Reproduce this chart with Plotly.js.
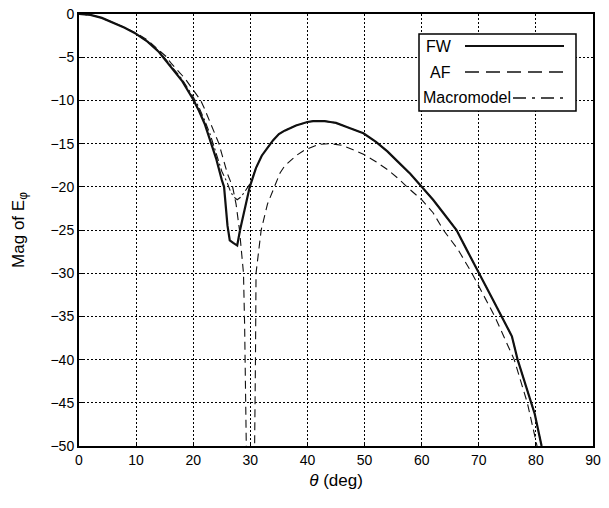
<!DOCTYPE html>
<html>
<head>
<meta charset="utf-8">
<script src="https://cdn.plot.ly/plotly-3.0.1.min.js"></script>
<style>
  html, body { margin: 0; padding: 0; background: #fff; }
  #chart { width: 609px; height: 508px; }
</style>
</head>
<body>
<div id="chart"></div>
<script>
// ---- Data ----
var fwTheta = [0, 2, 4, 6, 8, 10, 12, 14, 16, 18, 20, 21, 22, 23, 24, 25, 25.4, 26, 26.4, 27, 27.7, 28.2, 29, 29.9, 31, 32, 33, 34, 35, 36, 38, 40, 41, 43, 44, 45, 47, 49.8, 52, 54, 56, 58, 60, 62, 64, 66.1, 67.9, 70.1, 72.5, 74, 75.8, 76.8, 79.1, 79.8, 81];
var fwMag   = [0, -0.1, -0.45, -1.0, -1.6, -2.3, -3.2, -4.4, -6.0, -7.7, -9.9, -11.2, -12.7, -14.6, -16.7, -19.2, -20.0, -24.5, -26.2, -26.5, -26.8, -25.0, -22.5, -20.0, -17.8, -16.4, -15.5, -14.6, -13.9, -13.5, -12.9, -12.5, -12.4, -12.4, -12.5, -12.6, -13.1, -13.8, -14.8, -15.9, -17.2, -18.5, -20.0, -21.5, -23.2, -25.0, -27.3, -30.0, -33.1, -35.0, -37.3, -40.0, -45.0, -46.3, -50.0];

var afTheta = [0, 2, 4, 6, 8, 10, 12, 14, 15.4, 16, 18, 18.6, 20, 21.3, 22, 23, 24, 24.5, 25, 26, 26.9, 27.5, 28.1, 28.8, 29.0, 29.2, 29.5, 30.6, 30.8, 30.9, 31.0, 31.5, 31.9, 33, 34.2, 35.2, 36, 38, 39.6, 42, 44, 46, 48, 50, 52, 54, 56, 57.4, 60, 62, 63.8, 66.4, 68.8, 70.5, 72.8, 74.5, 76.2, 78.5, 80.2];
var afMag   = [0, -0.1, -0.45, -1.0, -1.55, -2.2, -3.0, -4.2, -5.0, -5.6, -7.1, -7.5, -8.8, -10.0, -11.0, -12.6, -14.4, -15.0, -16.2, -18.5, -20.0, -22.0, -25.0, -30.0, -36.0, -50.0, -60.0, -60.0, -50.0, -40.0, -30.0, -27.0, -25.0, -22.0, -20.0, -18.4, -17.6, -16.4, -15.7, -15.1, -15.0, -15.2, -15.7, -16.3, -17.1, -18.0, -19.1, -20.0, -21.5, -23.0, -25.0, -27.3, -30.0, -32.2, -35.0, -37.5, -40.0, -45.0, -50.0];

var mmTheta = [0, 2, 4, 6, 8, 10, 12, 14, 16, 18, 20, 21, 22, 23, 24, 25, 26, 26.5, 27, 27.7, 28.3, 29, 30, 31, 32, 33, 34, 35, 36, 38, 40, 41, 43, 44, 45, 47, 49.8, 52, 54, 56, 58, 60, 62, 64, 66.1, 67.9, 70.1, 72.5, 74, 75.8, 76.8, 79.1, 79.8, 81];
var mmMag   = [0, -0.1, -0.45, -1.0, -1.6, -2.3, -3.2, -4.3, -5.9, -7.5, -9.6, -10.8, -12.3, -14.0, -16.1, -18.2, -19.6, -20.5, -21.1, -21.5, -21.2, -20.6, -19.6, -17.8, -16.4, -15.5, -14.6, -13.9, -13.5, -12.9, -12.5, -12.4, -12.4, -12.5, -12.6, -13.1, -13.8, -14.8, -15.9, -17.2, -18.5, -20.0, -21.5, -23.2, -25.0, -27.3, -30.0, -33.1, -35.0, -37.3, -40.0, -45.0, -46.3, -50.0];

var seriesNames = ['FW', 'AF', 'Macromodel'];
var xTickVals = [0, 10, 20, 30, 40, 50, 60, 70, 80, 90];
var yTickVals = [0, -5, -10, -15, -20, -25, -30, -35, -40, -45, -50];

// ---- Styling ----
var W = 609, H = 508;
var M = {l: 79, r: 16, t: 14, b: 62};
var FONT = 'Liberation Sans, Arial, Helvetica, sans-serif';
var INK = '#111';
function px2x(p) { return (p - M.l) / (W - M.l - M.r); }
function px2y(p) { return (H - M.b - p) / (H - M.t - M.b); }

var dashAF = '8px,5px';
var dashMM = '8px,3px,2px,3px';

var traces = [
  {x: afTheta, y: afMag, name: seriesNames[1], mode: 'lines',
   line: {color: INK, width: 1.1, dash: dashAF}},
  {x: fwTheta, y: fwMag, name: seriesNames[0], mode: 'lines',
   line: {color: INK, width: 2.2}},
  {x: mmTheta, y: mmMag, name: seriesNames[2], mode: 'lines',
   line: {color: INK, width: 1.1, dash: dashMM}}
];

var axisCommon = {
  showgrid: true, gridcolor: '#000', griddash: '2px,2px', gridwidth: 1,
  showline: true, linecolor: '#000', linewidth: 2, mirror: true,
  zeroline: false, ticks: 'inside', ticklen: 4, tickcolor: '#000',
  tickfont: {family: FONT, size: 14, color: '#000'}
};

var legFont = {family: FONT, size: 16, color: '#000'};
var shapes = [
  {type: 'rect', xref: 'paper', yref: 'paper',
   x0: px2x(419), x1: px2x(576), y0: px2y(111), y1: px2y(34),
   line: {color: '#000', width: 1.5}, fillcolor: '#fff', layer: 'above'},
  {type: 'line', xref: 'paper', yref: 'paper',
   x0: px2x(465), x1: px2x(564), y0: px2y(46), y1: px2y(46),
   line: {color: INK, width: 2.2}},
  {type: 'line', xref: 'paper', yref: 'paper',
   x0: px2x(465), x1: px2x(564), y0: px2y(72), y1: px2y(72),
   line: {color: INK, width: 1.5, dash: '14px,7px'}},
  {type: 'line', xref: 'paper', yref: 'paper',
   x0: px2x(513), x1: px2x(564), y0: px2y(98), y1: px2y(98),
   line: {color: INK, width: 1.5, dash: '13px,6px,3px,6px'}}
];
var annotations = [
  {xref: 'paper', yref: 'paper', x: px2x(454), y: px2y(46), xanchor: 'right', yanchor: 'middle',
   text: seriesNames[0], showarrow: false, font: legFont},
  {xref: 'paper', yref: 'paper', x: px2x(453), y: px2y(72), xanchor: 'right', yanchor: 'middle',
   text: seriesNames[1], showarrow: false, font: legFont},
  {xref: 'paper', yref: 'paper', x: px2x(513), y: px2y(98), xanchor: 'right', yanchor: 'middle',
   text: seriesNames[2], showarrow: false, font: legFont}
];

var layout = {
  width: W, height: H,
  margin: M,
  paper_bgcolor: '#fff', plot_bgcolor: '#fff',
  showlegend: false,
  font: {family: FONT, color: '#000'},
  xaxis: Object.assign({}, axisCommon, {
    range: [0, 90], tickvals: xTickVals,
    title: {text: '<i>θ</i> (deg)', font: {family: FONT, size: 17, color: '#000'}, standoff: 7}
  }),
  yaxis: Object.assign({}, axisCommon, {
    range: [-50, 0], tickvals: yTickVals,
    title: {text: 'Mag of E<sub>φ</sub>', font: {family: FONT, size: 17, color: '#000'}, standoff: 22}
  }),
  shapes: shapes,
  annotations: annotations
};

Plotly.newPlot('chart', traces, layout, {staticPlot: true, displayModeBar: false});
</script>
</body>
</html>
